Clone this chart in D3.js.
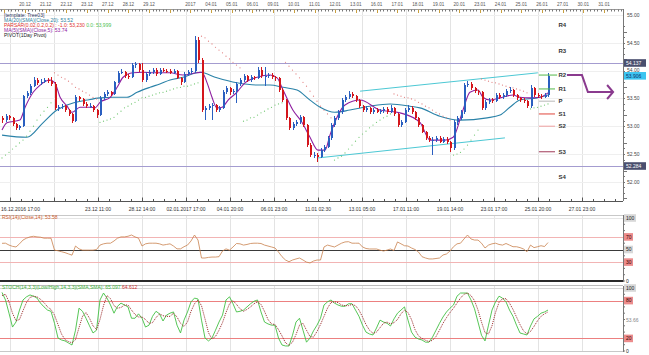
<!DOCTYPE html>
<html><head><meta charset="utf-8">
<script src="https://cdn.jsdelivr.net/npm/d3@7/dist/d3.min.js"></script>
<style>body{margin:0;background:#fff;} svg{display:block;font-family:"Liberation Sans",Arial,sans-serif;}</style>
</head><body><svg id="c" width="649" height="355"></svg>
<script>
// ---------- DATA ----------
const openFirst = 53.15;
const closes = [
53.11,53.18,53.15,53.04,52.97,53.00,53.54,53.60,53.72,53.83,
53.78,53.79,53.83,53.81,53.76,53.33,53.34,53.36,53.29,53.22,
53.09,53.52,53.49,53.40,53.36,53.37,53.29,53.20,53.51,53.58,
53.61,53.58,53.79,53.96,53.97,53.90,53.88,54.10,54.12,54.01,
53.83,53.94,53.97,54.01,53.94,54.01,54.00,53.99,53.96,53.99,
53.87,53.79,53.94,53.97,53.99,54.55,54.19,53.29,53.33,53.36,
53.38,53.29,53.33,53.61,53.69,53.61,53.63,53.76,53.83,53.90,
53.83,53.88,53.87,54.01,53.90,53.91,53.92,53.88,53.86,53.65,
53.47,53.15,52.97,53.04,53.07,53.16,53.02,52.66,52.48,52.49,
52.45,52.57,52.63,52.79,53.02,53.15,53.25,53.47,53.52,53.58,
53.54,53.47,53.36,53.29,53.33,53.25,53.29,53.26,53.27,53.31,
53.25,53.33,53.22,53.02,53.07,53.29,53.33,53.25,53.15,53.02,
52.90,52.79,52.75,52.76,52.79,52.72,52.77,52.71,52.61,53.07,
53.15,53.25,53.74,53.76,53.69,53.63,53.61,53.33,53.43,53.47,
53.45,53.56,53.52,53.56,53.63,53.65,53.56,53.51,53.47,53.45,
53.36,53.69,53.56,53.54,53.53,53.56,53.91];
const highs = [
53.19,53.22,53.21,53.17,53.06,53.03,53.57,53.64,53.76,53.88,
53.86,53.84,53.87,53.86,53.88,53.79,53.38,53.40,53.39,53.31,
53.24,53.56,53.55,53.51,53.43,53.41,53.39,53.31,53.54,53.62,
53.65,53.64,53.82,54.00,54.02,53.99,53.93,54.14,54.15,54.14,
54.14,53.98,54.01,54.05,54.04,54.05,54.04,54.03,54.02,54.03,
54.01,53.89,53.97,54.01,54.04,54.63,54.60,54.22,53.37,53.40,
53.42,53.40,53.37,53.65,53.73,53.71,53.67,53.80,53.87,53.94,
53.92,53.92,53.91,54.06,54.06,54.06,53.96,53.95,53.91,53.88,
53.68,53.49,53.17,53.08,53.11,53.20,53.18,53.04,52.69,52.53,
52.52,52.61,52.67,52.83,53.06,53.19,53.29,53.51,53.57,53.63,
53.61,53.57,53.49,53.39,53.37,53.35,53.33,53.32,53.31,53.35,
53.34,53.38,53.35,53.24,53.11,53.33,53.38,53.36,53.27,53.17,
53.04,52.92,52.82,52.80,52.83,52.82,52.81,52.80,52.73,53.11,
53.19,53.29,53.78,53.81,53.79,53.71,53.66,53.63,53.47,53.51,
53.50,53.60,53.59,53.60,53.67,53.70,53.67,53.58,53.53,53.50,
53.48,53.74,53.71,53.59,53.58,53.60,53.95];
const lows = [
53.06,53.08,53.12,53.01,52.93,52.94,52.98,53.50,53.57,53.70,
53.75,53.74,53.77,53.78,53.73,53.30,53.28,53.31,53.26,53.18,
53.06,53.07,53.45,53.37,53.33,53.32,53.25,53.14,53.18,53.48,
53.55,53.54,53.56,53.77,53.93,53.87,53.84,53.86,54.05,53.97,
53.80,53.80,53.91,53.94,53.90,53.92,53.97,53.95,53.93,53.93,
53.84,53.75,53.77,53.91,53.94,53.96,54.14,53.25,53.12,53.30,
53.11,53.25,53.26,53.31,53.58,53.57,53.58,53.42,53.73,53.80,
53.80,53.80,53.83,53.85,53.87,53.72,53.87,53.85,53.82,53.62,
53.44,53.12,52.93,52.94,53.00,53.04,52.99,52.62,52.44,52.42,
52.36,52.42,52.53,52.60,52.76,52.99,53.11,53.22,53.44,53.49,
53.50,53.44,53.33,53.26,53.26,53.22,53.22,53.23,53.22,53.24,
53.22,53.23,53.19,52.98,52.99,53.05,53.26,53.22,53.12,52.99,
52.87,52.76,52.71,52.48,52.72,52.69,52.69,52.68,52.53,52.58,
53.03,53.12,53.22,53.70,53.66,53.60,53.57,53.30,53.30,53.40,
53.41,53.43,53.49,53.49,53.53,53.60,53.53,53.48,53.44,53.41,
53.32,53.33,53.53,53.50,53.49,53.50,53.53];
// moving averages: [bar index, price]
const maFast = [[0,52.93],[1.4,53.06],[5.1,53.11],[6.6,53.34],[8.9,53.61],[10.9,53.74],[13.7,53.83],[15.1,53.78],
[16.6,53.52],[18.6,53.36],[20,53.25],[22.3,53.34],[25.1,53.34],[26.6,53.33],[28,53.43],[30.9,53.52],[32.9,53.70],
[34.6,53.88],[37.4,53.96],[40.3,53.97],[43.1,53.96],[48,53.96],[51.7,53.92],[55.7,53.96],[57.1,53.97],[58.6,53.78],
[60,53.52],[61.4,53.33],[62.9,53.34],[64.6,53.47],[67.1,53.61],[69.4,53.78],[72.9,53.88],[76.6,53.92],[78.6,53.87],
[80.3,53.65],[83.1,53.29],[85.7,53.07],[88,52.80],[90.3,52.57],[92.3,52.57],[93.7,52.84],[98,53.38],[102.3,53.47],
[108,53.29],[113.7,53.24],[119.4,53.07],[122.3,52.75],[126.6,52.75],[128.9,52.80],[131.7,53.29],[133.7,53.61],
[136,53.65],[137.4,53.52],[139.4,53.47],[142.3,53.51],[146,53.56],[148,53.52],[150.9,53.51],[153.7,53.52],[156,53.60]];
const maSlow = [[0,52.84],[7.1,52.80],[11.7,53.06],[15.7,53.29],[18.6,53.38],[24.3,53.47],[28,53.51],[31.7,53.52],
[35.7,53.52],[38.6,53.61],[42.3,53.70],[45.1,53.76],[48,53.83],[51.7,53.88],[56.6,53.97],[61.4,53.87],[67.1,53.78],
[72.9,53.74],[76.6,53.74],[80.3,53.70],[84.3,53.65],[88,53.47],[90.9,53.34],[95.1,53.25],[99.4,53.29],[105.1,53.36],
[110.9,53.40],[116.6,53.36],[119.4,53.33],[125.1,53.18],[130.9,53.11],[138.6,53.15],[142.3,53.20],[145.1,53.34],
[148,53.47],[152.9,53.51],[156,53.56]];
const sar = [
52.43,52.48,52.53,52.59,52.64,52.70,52.75,52.82,52.91,53.00,53.11,53.20,53.27,53.34,53.42,
53.96,53.92,53.88,53.85,53.81,53.76,53.70,53.67,53.63,53.60,53.56,53.52,53.49,
53.07,53.09,53.11,53.13,53.16,53.22,53.27,53.33,53.36,53.40,53.43,53.47,53.51,53.52,53.54,53.56,53.58,53.60,53.61,53.63,53.65,53.67,53.69,53.70,53.72,53.72,53.74,53.76,53.78,
54.62,54.59,54.53,54.48,54.42,54.37,54.32,54.26,54.21,54.15,54.10,54.05,
53.09,53.11,53.15,53.16,53.20,53.24,53.27,53.31,53.34,53.38,53.40,53.42,
54.15,54.08,54.01,53.94,53.87,53.79,53.72,53.63,53.54,53.45,53.36,53.29,53.22,53.15,
52.39,52.43,52.46,52.52,52.59,52.66,52.73,52.80,52.86,52.91,52.97,53.02,53.07,53.11,53.15,53.18,53.22,
53.58,53.56,53.54,53.52,53.51,53.49,53.47,53.43,53.40,53.36,53.33,53.29,53.25,53.22,53.18,53.15,53.11,
52.48,52.50,52.53,52.59,52.66,52.75,52.84,52.93,
53.85,53.83,53.81,53.79,53.78,53.76,53.74,53.72,53.70,53.69,53.67,53.65,53.63,53.60,
53.31,53.33,53.34,53.36,53.38,53.40];
const rsi = [
59.8,60,57,55,54,59,65,68,70,71,
70,69.5,68,68,68,49,48,46.5,45,43,
41,55.5,51,49,49,49,49,50,57,59,
60,60,63.5,68,70,70,71,73,70,68,
55.5,59,60,60,60,59,57,58,59,55.5,
51,51,54.4,57,63.5,73,65,36.5,36.5,37.5,
38,38,38.6,47.6,51,49,54,59.5,59,57,
58,59.5,60,60,59.5,57,55.5,54,52.4,46,
38.6,33.3,30.6,33.3,35,36.5,33.3,30,28.6,31.7,
33.3,33.3,54,57,55.5,54,57,60,62,62.4,
60,60,60,54,51.6,50.8,50.8,50.8,49,47.6,
49,50.8,48.4,62,59,56,55.5,52.4,50,46,
38.6,36.5,35,35,35.7,36.5,41.3,42.9,47.6,54.4,
59,60,66.7,73,66.7,65,65,60,52.4,57,
59,60,58,57,59.5,57,54.4,54.4,53,50.8,
46.5,57,53,54.4,56,54.7,61];
const stochK = [
93,81,60,38,46,65,81,86,89,87,
84,76,70,65,63,44,20.6,17.5,16,12.7,
9.5,33,68,63,52,40,28.6,33,81,92,
84,73,60,71,76,73,70,52,52,59,
52,38,41,55,63,59,47.6,57,60,62,
41,28.6,49,62,78,84,82.5,49,20.6,16,
20.6,33,46,57,81,86,75,62,63,65,
70,75,79,81,62,46,43,41,41,20.6,
9.5,8,8,25,46,52,33,14,20.6,32,
41,52,73,78,81,76,73,71,71,75,
75,65,55,41,30,27,25.4,36.5,49,46,
44,39.7,51,60,65,70,49,30,22,19,
17.5,14,14,22,33,44,54,62,68,73,
87,92,92,92,81,67,46,25,16,41,
65,78,87,84,78,65,55,41,28.6,27,
25.4,39.7,51,55,60,62,65];
const stochD = [
88,90,78,60,48,50,64,77,85,87,
86,82,77,70,66,57,42,27,18,15,
13,18,37,55,61,52,40,34,50,72,
88,83,72,68,69,73,73,65,58,54,
54,50,44,45,53,59,56,55,55,60,
54,44,39,46,63,75,81,72,51,29,
19,23,33,45,61,75,80,74,67,63,
66,70,75,78,74,63,50,43,42,34,
24,13,9,14,26,41,44,33,23,22,
31,42,55,68,77,78,77,73,72,72,
74,72,65,54,42,33,28,30,37,44,
46,43,45,50,59,65,61,50,34,24,
20,17,15,17,23,33,44,53,61,68,
76,84,90,92,88,80,65,46,29,27,
40,61,77,83,83,76,66,54,42,32,
27,31,39,48,55,59,62];
const pivotNames  = ["R4","R3","R2","R1","P","S1","S2","S3","S4"];
const pivotValues = [54.82,54.35,53.92,53.67,53.45,53.22,53.00,52.54,52.09];
const pivotLineColors = [null,null,"#52b84a","#52b84a","#b8b8b8","#e0463c","#f0a0a0","#a03a58",null];
const levelLines = [54.137, 52.284];
const lastPrice = 53.906;
const channelUpper = [[102.3,53.63],[153.1,53.96]];
const channelLower = [[90.3,52.43],[143.7,52.79]];
const arrowPath = [[161.4,53.92],[165.7,53.92],[167.4,53.615],[174.6,53.615]];
const topDays = ["20.12","21.12","22.12","23.12","27.12","28.12","29.12","","2017","04.01","05.01","06.01","09.01","10.01",
"11.01","12.01","13.01","16.01","17.01","18.01","19.01","20.01","23.01","24.01","25.01","26.01","27.01","30.01","31.01"];
const bottomLabels = ["16.12.2016 17:00","","23.12 11:00","28.12 14:00","02.01.2017 17:00","04.01 20:00","06.01 23:00",
"11.01 02:30","13.01 05:00","17.01 11:00","19.01 14:00","23.01 17:00","25.01 20:00","27.01 23:00"];
const priceTicks = [52,52.5,53,53.5,54,54.5,55];
const rsiLevels = [100,70,50,30,0];
const stochLevels = [100,80,20,0];
const legendMain = [
  [["[template: Tree03]","#2c3560"]],
  [["MA(20)(SMA)(Close,20): 53.52","#2a7fa0"]],
  [["PARSAR(0.02,0.2,0.2) : -1.0: 53,230  ","#e0302c"],["0.0: 53,999","#50c050"]],
  [["MA(5)(SMA)(Close,5): 53.74","#9020a0"]],
  [["PIVOT(1Day Pivot)","#222"]]
];
const rsiLegend = "RSI(14)(Close,14): 53.58";
const stochLegend = [["STOCH(14,3,3)(Low/High,14,3,3)(SMA,SMA): 65.097  ","#3cb43c"],["64.612","#d03030"]];
const stochAxisExtra = "53.66";

// ---------- LAYOUT ----------
const svg = d3.select("#c");
const R = 623;
const xBar = d3.scaleLinear().domain([0,156]).range([2,548]);
const yP = d3.scaleLinear().domain([52,55]).range([181.8,15]);
const yR = d3.scaleLinear().domain([0,100]).range([281,218]);
const yS = d3.scaleLinear().domain([0,100]).range([351,288]);
const xDay = d3.scaleLinear().domain([0,28]).range([25,604]);
const xGrid = d3.scaleLinear().domain([0,13]).range([10,582]);
const panels = [[9,201],[215,281],[286,351]];

svg.append("rect").attr("width",649).attr("height",355).attr("fill","#fff");
const defs = svg.append("defs");
defs.append("clipPath").attr("id","cm").append("rect").attr("x",0).attr("y",9).attr("width",R).attr("height",192);

// vertical grid
panels.forEach(([a,b])=>{
  svg.append("g").selectAll("line").data(d3.range(14)).join("line")
    .attr("x1",k=>xGrid(k)+0.5).attr("x2",k=>xGrid(k)+0.5).attr("y1",a).attr("y2",b)
    .attr("stroke","#e3e3e3").attr("stroke-width",1);
});
// horizontal grid main
svg.append("g").selectAll("line").data(priceTicks).join("line")
  .attr("x1",0).attr("x2",R).attr("y1",d=>Math.round(yP(d))+0.5).attr("y2",d=>Math.round(yP(d))+0.5)
  .attr("stroke","#efefef");

const main = svg.append("g").attr("clip-path","url(#cm)");
// level lines
main.selectAll(".lvl").data(levelLines).join("line")
  .attr("x1",0).attr("x2",R).attr("y1",d=>Math.round(yP(d))+0.5).attr("y2",d=>Math.round(yP(d))+0.5)
  .attr("stroke","#a49cd0").attr("stroke-width",1);
// channel
[channelUpper,channelLower].forEach(ch=>{
  main.append("line").attr("x1",xBar(ch[0][0])).attr("y1",yP(ch[0][1]))
    .attr("x2",xBar(ch[1][0])).attr("y2",yP(ch[1][1]))
    .attr("stroke","#4cc8d4").attr("stroke-width",1);
});
// moving averages
const ln = d3.line().x(d=>xBar(d[0])).y(d=>yP(d[1])).curve(d3.curveMonotoneX);
main.append("path").attr("d",ln(maSlow)).attr("fill","none").attr("stroke","#2a82a8").attr("stroke-width",1.1);
main.append("path").attr("d",ln(maFast)).attr("fill","none").attr("stroke","#8e1fa0").attr("stroke-width",1.1);

// candles
const bars = closes.map((c,i)=>({i,o:i?closes[i-1]:openFirst,c,h:highs[i],l:lows[i]}));
const cg = main.append("g").attr("shape-rendering","crispEdges");
cg.selectAll(".w").data(bars).join("line")
  .attr("x1",d=>Math.round(xBar(d.i))+0.5).attr("x2",d=>Math.round(xBar(d.i))+0.5)
  .attr("y1",d=>yP(d.h)).attr("y2",d=>yP(d.l))
  .attr("stroke",d=>d.c>=d.o?"#2a5fc0":"#d4161c");
cg.selectAll(".b").data(bars).join("rect")
  .attr("x",d=>Math.round(xBar(d.i))-0.5).attr("width",2)
  .attr("y",d=>yP(Math.max(d.o,d.c))).attr("height",d=>Math.max(1,Math.abs(yP(d.o)-yP(d.c))))
  .attr("fill",d=>d.c>=d.o?"#2a5fc0":"#d4161c");
// SAR dots
main.selectAll(".sar").data(sar).join("circle")
  .attr("cx",(d,i)=>xBar(i)).attr("cy",d=>yP(d)).attr("r",0.6)
  .attr("fill",(d,i)=>d>closes[i]?"#e07a7a":"#6cc46c");

// pivots
pivotNames.forEach((n,k)=>{
  if(pivotLineColors[k]) svg.append("line").attr("x1",xBar(153.4)).attr("x2",xBar(k===2?158.6:158))
    .attr("y1",yP(pivotValues[k])).attr("y2",yP(pivotValues[k])).attr("stroke",pivotLineColors[k]).attr("stroke-width",1);
  svg.append("text").attr("x",xBar(159)).attr("y",yP(pivotValues[k])).attr("dy","0.35em")
    .attr("font-size",6).attr("font-weight","bold").attr("fill","#333").text(n);
});
// arrow
const ap = arrowPath.map(d=>[xBar(d[0]),yP(d[1])]);
svg.append("path").attr("d",d3.line()(ap)).attr("fill","none").attr("stroke","#8a3a8e").attr("stroke-width",2);
const tip = ap[ap.length-1];
svg.append("path").attr("d",d3.line()([[tip[0]-6,tip[1]-7],[tip[0],tip[1]],[tip[0]-6,tip[1]+7]]))
  .attr("fill","none").attr("stroke","#8a3a8e").attr("stroke-width",2);

// top axis
svg.append("line").attr("x1",0).attr("x2",R).attr("y1",9.5).attr("y2",9.5).attr("stroke","#999");
svg.append("g").selectAll("line").data(d3.range(-24,28*6+12)).join("line")
  .attr("x1",s=>Math.round(xDay(s/6))+0.5).attr("x2",s=>Math.round(xDay(s/6))+0.5)
  .attr("y1",9.5).attr("y2",s=>s%6===0?13:11.5)
  .attr("stroke",s=>s%6===0?"#c9a040":"#777")
  .attr("display",s=>{const x=xDay(s/6);return (x<0||x>R)?"none":null;});
svg.append("g").selectAll("text").data(topDays).join("text")
  .attr("x",(d,k)=>xDay(k)).attr("y",6).attr("text-anchor","middle")
  .attr("font-size",4.6).attr("fill","#555").text(d=>d);

// legend
legendMain.forEach((parts,j)=>{
  const t = svg.append("text").attr("x",4).attr("y",16.7+j*5).attr("font-size",5);
  parts.forEach(p=>t.append("tspan").attr("fill",p[1]).text(p[0]));
});

// bottom axis
svg.append("line").attr("x1",0).attr("x2",R).attr("y1",201.5).attr("y2",201.5).attr("stroke","#555");
svg.append("g").selectAll("line").data(d3.range(0,13*4+5)).join("line")
  .attr("x1",s=>Math.round(xGrid(s/4))+0.5).attr("x2",s=>Math.round(xGrid(s/4))+0.5)
  .attr("y1",201.5).attr("y2",s=>s%4===0?197.5:199)
  .attr("stroke","#555").attr("display",s=>xGrid(s/4)>R?"none":null);
svg.append("g").selectAll("text").data(bottomLabels).join("text")
  .attr("x",(d,k)=>k===0?1:xGrid(k)).attr("y",210.5)
  .attr("text-anchor",(d,k)=>k===0?"start":"middle")
  .attr("font-size",5).attr("fill","#333").text(d=>d);

// price axis
svg.append("line").attr("x1",R+0.5).attr("x2",R+0.5).attr("y1",9).attr("y2",201).attr("stroke","#777");
svg.append("g").selectAll("line").data(d3.range(0,32)).join("line")
  .attr("x1",R).attr("x2",s=>s%5===0?R+4:R+2)
  .attr("y1",s=>Math.round(yP(51.7+s*0.1))+0.5).attr("y2",s=>Math.round(yP(51.7+s*0.1))+0.5)
  .attr("stroke","#777").attr("display",s=>{const y=yP(51.7+s*0.1);return (y<9||y>201)?"none":null;});
svg.append("g").selectAll("text").data(priceTicks).join("text")
  .attr("x",627).attr("y",d=>yP(d)).attr("dy","0.35em").attr("font-size",5).attr("fill","#444")
  .text(d=>d.toFixed(2));
function box(y,txt,fill,col,w){
  svg.append("rect").attr("x",R+1).attr("y",y-3.8).attr("width",w).attr("height",7.6).attr("fill",fill);
  svg.append("text").attr("x",R+3).attr("y",y).attr("dy","0.35em").attr("font-size",5).attr("fill",col).text(txt);
}
box(yP(levelLines[0]),levelLines[0].toFixed(3),"#4a4f6e","#fff",22);
box(yP(lastPrice),lastPrice.toFixed(3),"#3cc4f0","#10306a",22);
box(yP(levelLines[1]),levelLines[1].toFixed(3),"#4a4f6e","#fff",22);

// RSI panel
svg.append("line").attr("x1",0).attr("x2",R).attr("y1",215.5).attr("y2",215.5).attr("stroke","#c8c8c8");
[[70,"#f2b4b4",1],[30,"#f2b4b4",1],[50,"#3a3a3a",1],[100,"#e6e6e6",1]].forEach(([v,c,w])=>{
  svg.append("line").attr("x1",0).attr("x2",R).attr("y1",Math.round(yR(v))+0.5).attr("y2",Math.round(yR(v))+0.5)
    .attr("stroke",c).attr("stroke-width",w);
});
svg.append("line").attr("x1",0).attr("x2",R).attr("y1",yR(0)).attr("y2",yR(0)).attr("stroke","#2a2a2a").attr("stroke-width",2);
svg.append("path").attr("d",d3.line().x((d,i)=>xBar(i)).y(d=>yR(d))(rsi))
  .attr("fill","none").attr("stroke","#c9824e").attr("stroke-width",0.8);
svg.append("text").attr("x",2).attr("y",219).attr("font-size",5).attr("fill","#d0602c").text(rsiLegend);
svg.append("line").attr("x1",R+0.5).attr("x2",R+0.5).attr("y1",215).attr("y2",282).attr("stroke","#777");
svg.append("g").selectAll("line").data(d3.range(0,11)).join("line")
  .attr("x1",R).attr("x2",R+2).attr("y1",v=>yR(v*10)).attr("y2",v=>yR(v*10)).attr("stroke","#777");
rsiLevels.forEach(v=>{
  const red = v===70||v===30, grey = v===50||v===100;
  if(red) box(yR(v),String(v),"#ec8c8c","#3a0000",9);
  else if(grey) box(yR(v),String(v),"#d8d8d8","#222",v===100?12:9);
  else svg.append("text").attr("x",R+3).attr("y",yR(v)).attr("dy","0.35em").attr("font-size",5).attr("fill","#222").text(v);
});

// Stochastic panel
svg.append("line").attr("x1",0).attr("x2",R).attr("y1",285.5).attr("y2",285.5).attr("stroke","#bbb");
[[100,"#d6d6d6"],[80,"#ec8080"],[20,"#ec8080"],[0,"#c8c8c8"]].forEach(([v,c])=>{
  svg.append("line").attr("x1",0).attr("x2",R).attr("y1",Math.round(yS(v))+0.5).attr("y2",Math.round(yS(v))+0.5).attr("stroke",c);
});
svg.append("path").attr("d",d3.line().x((d,i)=>xBar(i)).y(d=>yS(d))(stochK))
  .attr("fill","none").attr("stroke","#44c044").attr("stroke-width",0.9);
svg.append("path").attr("d",d3.line().x((d,i)=>xBar(i)).y(d=>yS(d))(stochD))
  .attr("fill","none").attr("stroke","#9a2a2a").attr("stroke-width",1).attr("stroke-dasharray","1,1");
{
  const t = svg.append("text").attr("x",2).attr("y",289).attr("font-size",5);
  stochLegend.forEach(p=>t.append("tspan").attr("fill",p[1]).text(p[0]));
}
svg.append("line").attr("x1",R+0.5).attr("x2",R+0.5).attr("y1",286).attr("y2",352).attr("stroke","#777");
svg.append("g").selectAll("line").data(d3.range(0,11)).join("line")
  .attr("x1",R).attr("x2",R+2).attr("y1",v=>yS(v*10)).attr("y2",v=>yS(v*10)).attr("stroke","#777");
stochLevels.forEach(v=>{
  if(v===80||v===20) box(yS(v),String(v),"#ec8c8c","#3a0000",9);
  else if(v===100) box(yS(v),String(v),"#d8d8d8","#222",12);
  else svg.append("text").attr("x",R+3).attr("y",yS(v)).attr("dy","0.35em").attr("font-size",5).attr("fill","#222").text(v);
});
svg.append("text").attr("x",R+3).attr("y",320).attr("dy","0.35em").attr("font-size",5).attr("fill","#888").text(stochAxisExtra);
</script></body></html>
